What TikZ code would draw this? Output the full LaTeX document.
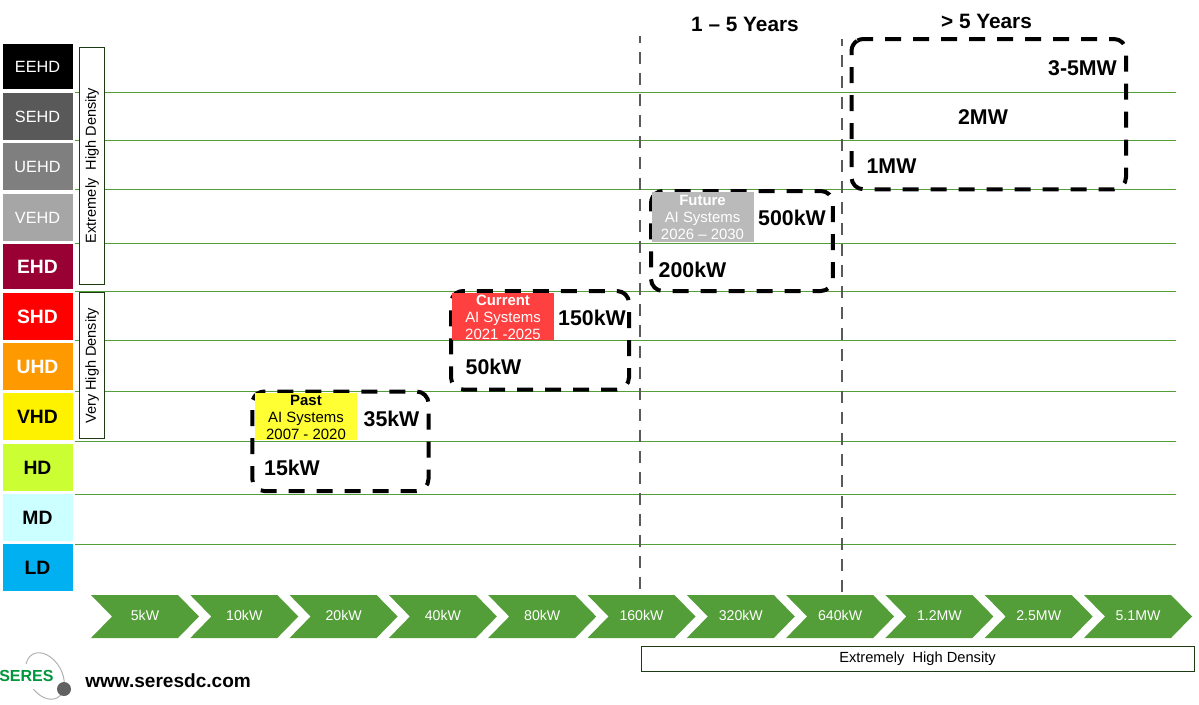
\documentclass[tikz,border=0pt]{standalone}
\usepackage{fontspec}
\setmainfont{Liberation Sans}
\definecolor{grn}{RGB}{84,158,57}
\definecolor{cEHD}{RGB}{153,0,51}
\definecolor{cSEHD}{RGB}{89,89,89}
\definecolor{cUEHD}{RGB}{127,127,127}
\definecolor{cVEHD}{RGB}{166,166,166}
\definecolor{cUHD}{RGB}{255,153,0}
\definecolor{cHD}{RGB}{204,255,51}
\definecolor{cMD}{RGB}{204,255,255}
\definecolor{cLD}{RGB}{0,176,240}
\definecolor{cPast}{RGB}{255,255,51}
\definecolor{cCur}{RGB}{255,64,64}
\definecolor{cFut}{RGB}{186,186,186}
\definecolor{cDens}{RGB}{30,60,20}
\definecolor{cLogo}{RGB}{0,150,60}
\definecolor{cYear}{RGB}{90,90,90}
\tikzset{
 x=0.75pt,y=-0.75pt,
 band/.style={draw=grn,line width=0.75pt},
 dens/.style={draw=cDens,fill=white,line width=0.75pt,inner sep=0,anchor=center,font=\fontsize{11}{13}\selectfont},
 era/.style={draw=black,line width=3pt,dash pattern=on 12pt off 9pt},
 yearline/.style={draw=cYear,line width=2pt,dash pattern=on 9.2pt off 6.55pt,dash phase=4pt},
 pw/.style={font=\bfseries\fontsize{16}{18}\selectfont,anchor=center,inner sep=0},
 yrs/.style={font=\bfseries\fontsize{15.6}{18}\selectfont,inner sep=0},
 chev/.style={fill=grn,draw=none},
 chevtext/.style={text=white,font=\fontsize{10.6}{12}\selectfont,anchor=center,inner sep=0},
 ai/.style={inner sep=0,anchor=center,align=center,font=\fontsize{11.2}{13}\selectfont},
}
\newcommand{\levbox}[6]{%
 \fill[#5] (3,#1) rectangle (73,#2);
 \node[text=#6,inner sep=0,font=#4] (l#3) at (37.5,{(#1+#2)/2+0.7}) {#3};}
\newcommand{\chevron}[3]{%
 \fill[chev] (#1,595) -- ({#1+87},595) -- ({#1+108},616.5) -- ({#1+87},638) -- (#1,638) -- ({#1+21},616.5) -- cycle;
 \node[chevtext] (#3) at ({#1+54},615.5) {#2};}
% x1 y1 x2 y2 startangle : clockwise from a point on the top-left arc
\newcommand{\erabox}[5]{%
 \draw[era] ({#1+12+12*cos(#5)},{#2+12-12*sin(#5)}) arc[start angle=#5,end angle=90,radius=9pt]
  -- ({#3-12},#2) arc[start angle=90,end angle=0,radius=9pt]
  -- (#3,{#4-12}) arc[start angle=0,end angle=-90,radius=9pt]
  -- ({#1+12},#4) arc[start angle=-90,end angle=-180,radius=9pt]
  -- (#1,{#2+12}) arc[start angle=180,end angle=#5,radius=9pt];}
\begin{document}
\begin{tikzpicture}
\useasboundingbox (0,0) rectangle (1199,704);
% bands
\foreach \yy in {92,140,189,243,291,340,391,441,494,544}
 \draw[band] (75,\yy) -- (1176,\yy);
% levels
\def\sm{\fontsize{12.2}{14}\selectfont}
\def\bg{\bfseries\fontsize{14.5}{16}\selectfont}
\levbox{44}{89}{EEHD}{\sm}{black}{white}
\levbox{93}{140}{SEHD}{\sm}{cSEHD}{white}
\levbox{143}{190}{UEHD}{\sm}{cUEHD}{white}
\levbox{194}{241}{VEHD}{\sm}{cVEHD}{white}
\levbox{244}{289}{EHD}{\bg}{cEHD}{white}
\levbox{293}{340}{SHD}{\bg}{red}{white}
\levbox{343}{390}{UHD}{\bg}{cUHD}{white}
\levbox{393}{440}{VHD}{\bg}{yellow}{black}
\levbox{444}{491}{HD}{\bg}{cHD}{black}
\levbox{494}{541}{MD}{\bg}{cMD}{black}
\levbox{544}{591}{LD}{\bg}{cLD}{black}
% density boxes
\node[dens,minimum width=18.75pt,minimum height=177.75pt] (dxh) at (91.5,165.5) {};
\node[rotate=90,inner sep=0,font=\fontsize{10.9}{12}\selectfont] (dxht) at (92,165.5) {Extremely\ \ High Density};
\node[dens,minimum width=18.75pt,minimum height=109.5pt] (dvh) at (91.5,365) {};
\node[rotate=90,inner sep=0,font=\fontsize{10.9}{12}\selectfont] (dvht) at (92,366) {Very High Density};
% year lines
\coordinate (a1) at (640,36); \coordinate (a2) at (640,589);
\coordinate (b1) at (842,39); \coordinate (b2) at (842,592);
\draw[yearline] (a1) -- (a2);
\draw[yearline] (b1) -- (b2);
\node[yrs] (y1) at (745,24) {1 – 5 Years};
\node[yrs] (y2) at (986.5,21) {> 5 Years};
% era boxes
\erabox{252.3}{391.5}{428.5}{491}{162}
\erabox{451}{291}{629}{389.5}{158}
\erabox{651}{191}{832.8}{291}{169}
\erabox{851.5}{39}{1126}{189.3}{120}
% colored labels
\fill[cPast] (255,393.3) rectangle (356.7,440);
\fill[cCur] (452,293) rectangle (554,340);
\fill[cFut] (652.3,192) rectangle (754,242);
\node[ai,text=black] (past) at (306,417.5) {\textbf{Past}\\AI Systems\\2007 - 2020};
\node[ai,text=white] (cur) at (503,317.5) {\textbf{Current}\\AI Systems\\2021 -2025};
\node[ai,text=white] (fut) at (702.5,217.5) {\textbf{Future}\\AI Systems\\2026 – 2030};
% power labels
\node[pw] (p15) at (292,468) {15kW};
\node[pw] (p35) at (391.5,419) {35kW};
\node[pw] (p50) at (493.5,367) {50kW};
\node[pw] (p150) at (592,318) {150kW};
\node[pw] (p200) at (692.5,270) {200kW};
\node[pw] (p500) at (792,218) {500kW};
\node[pw] (p1m) at (891.5,166) {1MW};
\node[pw] (p2m) at (983,117) {2MW};
\node[pw] (p35m) at (1082.5,68) {3-5MW};
% chevrons
\chevron{91}{5kW}{c1}
\chevron{190.3}{10kW}{c2}
\chevron{289.6}{20kW}{c3}
\chevron{388.9}{40kW}{c4}
\chevron{488.2}{80kW}{c5}
\chevron{587.5}{160kW}{c6}
\chevron{686.8}{320kW}{c7}
\chevron{786.1}{640kW}{c8}
\chevron{885.4}{1.2MW}{c9}
\chevron{984.7}{2.5MW}{c10}
\chevron{1084}{5.1MW}{c11}
% bottom density box
\node[dens,minimum width=414.75pt,minimum height=18.75pt] (dbot) at (917.5,658.5) {Extremely\ \ High Density};
% logo
\draw[black!30,line width=0.75pt,rotate around={-60:(45,676)}] (45,676) ellipse [x radius=25,y radius=17];
\fill[white] (-2,664) rectangle (54,689);
\node[inner sep=0,text=cLogo,font=\bfseries\fontsize{12}{14}\selectfont,anchor=west] (logo) at (-1,676) {SERES};
\fill[black!62] (64,689) circle (7);
\node[inner sep=0,anchor=west,font=\bfseries\fontsize{14.3}{16}\selectfont] (url) at (85,681) {www.seresdc.com};
\end{tikzpicture}
\end{document}
